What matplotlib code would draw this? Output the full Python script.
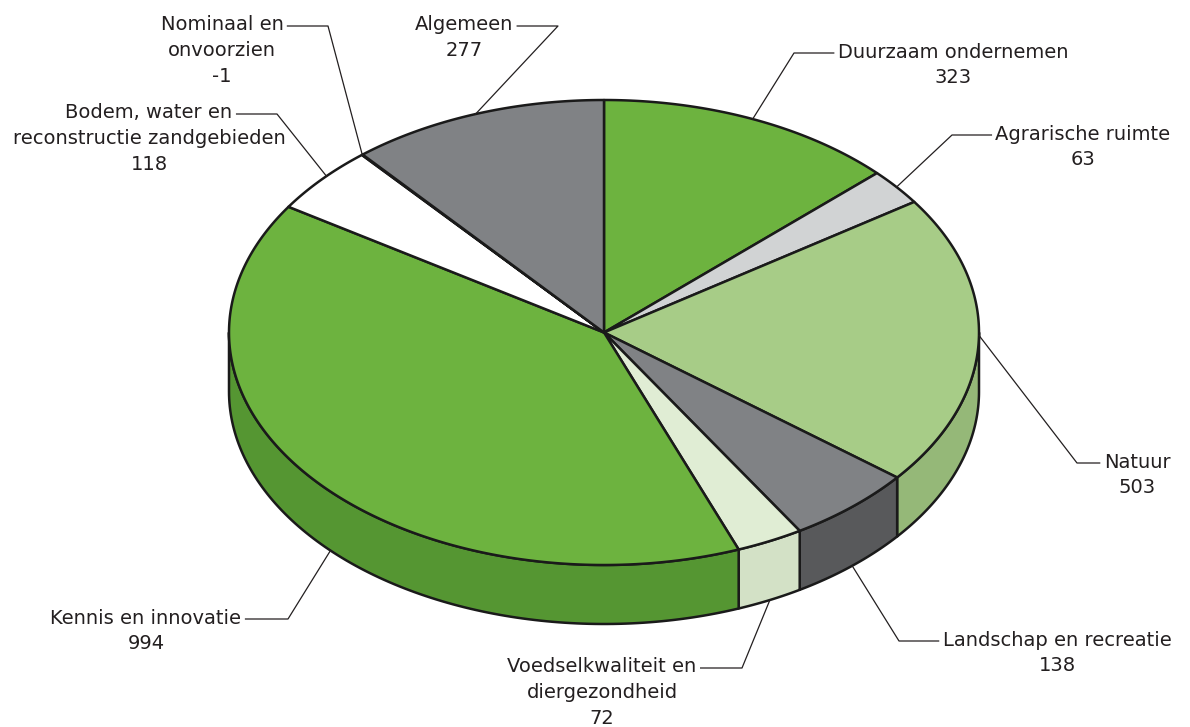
import numpy as np
import matplotlib.pyplot as plt

# uitgaven per beleidsartikel
labels = ["Duurzaam ondernemen", "Agrarische ruimte", "Natuur",
          "Landschap en recreatie", "Voedselkwaliteit en\ndiergezondheid",
          "Kennis en innovatie", "Bodem, water en\nreconstructie zandgebieden",
          "Nominaal en\nonvoorzien", "Algemeen"]
values = [323, 63, 503, 138, 72, 994, 118, -1, 277]

top_colors = ["#6db33f", "#d1d3d4", "#a7cc87", "#808285", "#e0edd4",
              "#6db33f", "#ffffff", "#ffffff", "#808285"]
side_colors = ["#559632", "#b9bbbd", "#95b878", "#58595b", "#d3e1c6",
               "#559632", "#e6e6e6", "#e6e6e6", "#58595b"]

# label layout: text centre x, first line y, elbow x, anchor edge, angle shift
label_pos = [(953, 52, 794, "top", 0), (1083, 134, 952, "top", 0),
             (1137, 462, 1077, "top", 1.5), (1057, 640, 899, "bottom", 0),
             (602, 667, 742, "bottom", 0), (146, 618, 288, "bottom", 4),
             (149, 113, 277, "top", -1), (222, 25, 328, "top", 0),
             (464, 25, 558, "top", 0)]

W, H = 1190, 727
cx, cy, rx, ry, depth = 604, 332.5, 375, 232.5, 59
text_color = "#231f20"


def ell(theta_deg, dy=0.0):
    t = np.radians(theta_deg)
    return cx + rx * np.cos(t), cy - ry * np.sin(t) + dy


fig = plt.figure(figsize=(W / 100, H / 100), dpi=100)
ax = fig.add_axes([0, 0, 1, 1])
ax.set_xlim(0, W)
ax.set_ylim(H, 0)
ax.axis("off")

sizes = np.abs(np.array(values, dtype=float))
sweeps = sizes / sizes.sum() * 360
starts = 90 - np.concatenate([[0], np.cumsum(sweeps)[:-1]])
ends = starts - sweeps

# zijwanden (alleen voorkant zichtbaar)
for a0, a1, col in zip(starts, ends, side_colors):
    lo, hi = max(a1, -180), min(a0, 0)
    if hi <= lo:
        continue
    th = np.linspace(hi, lo, 120)
    xt, yt = ell(th)
    xb, yb = ell(th[::-1], depth)
    xs = np.concatenate([xt, xb])
    ys = np.concatenate([yt, yb])
    ax.fill(xs, ys, facecolor=col, edgecolor="#1a1a1a", lw=1.8, joinstyle="round", zorder=1)

# bovenvlakken
for a0, a1, col in zip(starts, ends, top_colors):
    th = np.linspace(a0, a1, max(int(abs(a0 - a1) * 2), 2))
    xa, ya = ell(th)
    xs = np.concatenate([[cx], xa])
    ys = np.concatenate([[cy], ya])
    ax.fill(xs, ys, facecolor=col, edgecolor="#1a1a1a", lw=1.8, joinstyle="round", zorder=2)

# labels met verbindingslijnen
fig.canvas.draw()
renderer = fig.canvas.get_renderer()
inv = ax.transData.inverted()
for i, (lab, v) in enumerate(zip(labels, values)):
    tx, ty, ex, edge, shift = label_pos[i]
    lines = lab.split("\n") + [str(v)]
    first = None
    for k, line in enumerate(lines):
        t = ax.text(tx, ty + k * 25.5, line, ha="center", va="center",
                    fontsize=14, color=text_color, family="DejaVu Sans", zorder=5)
        if first is None:
            first = t
    bb = first.get_window_extent(renderer=renderer)
    (x0, _), (x1, _) = inv.transform([[bb.x0, bb.y0], [bb.x1, bb.y1]])
    mid = (starts[i] + ends[i]) / 2 + shift
    axp, ayp = ell(mid, depth if edge == "bottom" else 0)
    sx = x1 + 4 if ex > tx else x0 - 4
    ax.plot([sx, ex, axp], [ty + 1, ty + 1, ayp], color="#231f20", lw=0.9, zorder=3)

fig.savefig("out.png", dpi=100, facecolor="white")
